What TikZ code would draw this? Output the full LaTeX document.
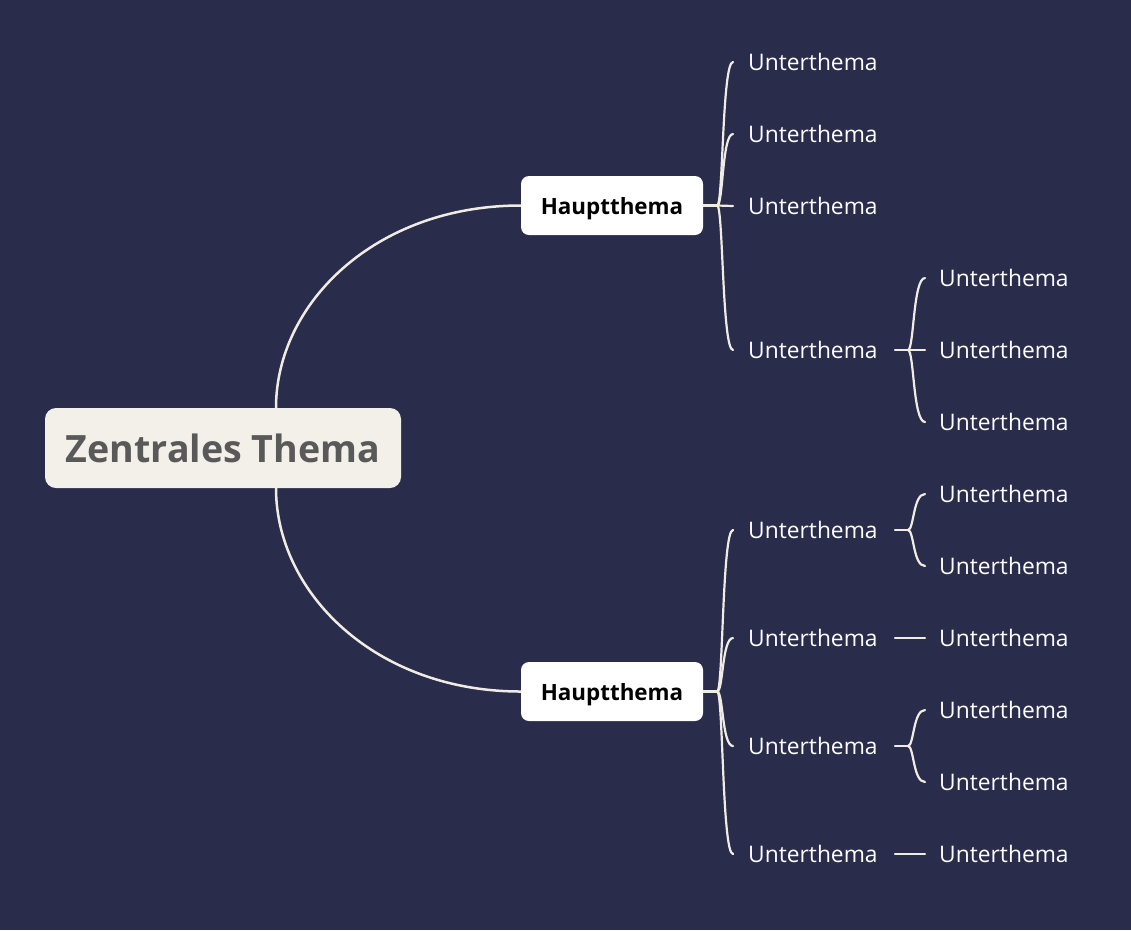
\documentclass[tikz,border=0pt]{standalone}
\usepackage{fontspec}
\setmainfont{Open Sans}
\usetikzlibrary{calc}
\definecolor{bg}{HTML}{2A2C4B}
\definecolor{ln}{HTML}{F0EBE3}
\definecolor{cream}{HTML}{F3EFE9}
\definecolor{ctext}{HTML}{595959}
\begin{document}
\begin{tikzpicture}[x=1pt,y=-1pt,
  conn/.style={draw=ln, line width=2.2pt, line cap=round},
  mainconn/.style={draw=ln, line width=2.5pt},
  subtopic/.style={anchor=west, inner sep=0pt, text=white, font=\fontsize{22.8}{27}\selectfont},
  mainbox/.style={fill=white, rounded corners=8pt, minimum width=182pt, minimum height=59pt, inner sep=0pt, text depth=0pt, font=\bfseries\fontsize{22.4}{26}\selectfont, text=black},
  rootbox/.style={fill=cream, rounded corners=11pt, minimum width=356pt, minimum height=80pt, inner sep=0pt, text depth=0pt, font=\bfseries\fontsize{37.6}{42}\selectfont, text=ctext}
]
\useasboundingbox (0,0) rectangle (1131,930);
\fill[bg] (0,0) rectangle (1131,930);

% main nodes
\node[rootbox] (c) at (223,448) {Zentrales Thema};
\node[mainbox] (h1) at (612,205.5) {Hauptthema};
\node[mainbox] (h2) at (612,691.5) {Hauptthema};

% subtopics (top)
\node[subtopic] (u1) at (748,62) {Unterthema};
\node[subtopic] (u2) at (748,134) {Unterthema};
\node[subtopic] (u3) at (748,206) {Unterthema};
\node[subtopic] (u4) at (748,350) {Unterthema};
\node[subtopic] (w1) at (939,278) {Unterthema};
\node[subtopic] (w2) at (939,350) {Unterthema};
\node[subtopic] (w3) at (939,422) {Unterthema};

% subtopics (bottom)
\node[subtopic] (v1) at (748,530) {Unterthema};
\node[subtopic] (v2) at (748,638) {Unterthema};
\node[subtopic] (v3) at (748,746) {Unterthema};
\node[subtopic] (v4) at (748,854) {Unterthema};
\node[subtopic] (x1) at (939,494) {Unterthema};
\node[subtopic] (x2) at (939,566) {Unterthema};
\node[subtopic] (x3) at (939,638) {Unterthema};
\node[subtopic] (x4) at (939,710) {Unterthema};
\node[subtopic] (x5) at (939,782) {Unterthema};
\node[subtopic] (x6) at (939,854) {Unterthema};

% root connectors
\draw[mainconn] ([xshift=53pt]c.north) .. controls +(0,-104) and +(-146,0) .. (h1.west);
\draw[mainconn] ([xshift=53pt]c.south) .. controls +(0,104) and +(-146,0) .. (h2.west);

% top Hauptthema
\coordinate (j1) at ([xshift=14pt]h1.east);
\draw[conn] (h1.east) -- (j1);
\foreach \u in {u1,u2,u4}
  \draw[conn] (j1) .. controls +(6,0) and +(-11,0) .. ([xshift=-15pt]\u.west);
\draw[conn] (j1) -- ([xshift=-15pt]u3.west);

\coordinate (k1) at ([xshift=-31pt]w2.west);
\draw[conn] ([xshift=-44pt]w2.west) -- ([xshift=-14pt]w2.west);
\foreach \w in {w1,w3}
  \draw[conn] (k1) .. controls +(6,0) and +(-12,0) .. ([xshift=-14pt]\w.west);

% bottom Hauptthema
\coordinate (j2) at ([xshift=14pt]h2.east);
\draw[conn] (h2.east) -- (j2);
\foreach \u in {v1,v2,v3,v4}
  \draw[conn] (j2) .. controls +(6,0) and +(-11,0) .. ([xshift=-15pt]\u.west);

\coordinate (k2) at ([xshift=-31pt]x1.west |- v1.west);
\draw[conn] ([xshift=-44pt]x1.west |- v1.west) -- (k2);
\foreach \w in {x1,x2}
  \draw[conn] (k2) .. controls +(6,0) and +(-12,0) .. ([xshift=-14pt]\w.west);

\draw[conn] ([xshift=-44pt]x3.west) -- ([xshift=-14pt]x3.west);

\coordinate (k3) at ([xshift=-31pt]x4.west |- v3.west);
\draw[conn] ([xshift=-44pt]x4.west |- v3.west) -- (k3);
\foreach \w in {x4,x5}
  \draw[conn] (k3) .. controls +(6,0) and +(-12,0) .. ([xshift=-14pt]\w.west);

\draw[conn] ([xshift=-44pt]x6.west) -- ([xshift=-14pt]x6.west);
\end{tikzpicture}
\end{document}
